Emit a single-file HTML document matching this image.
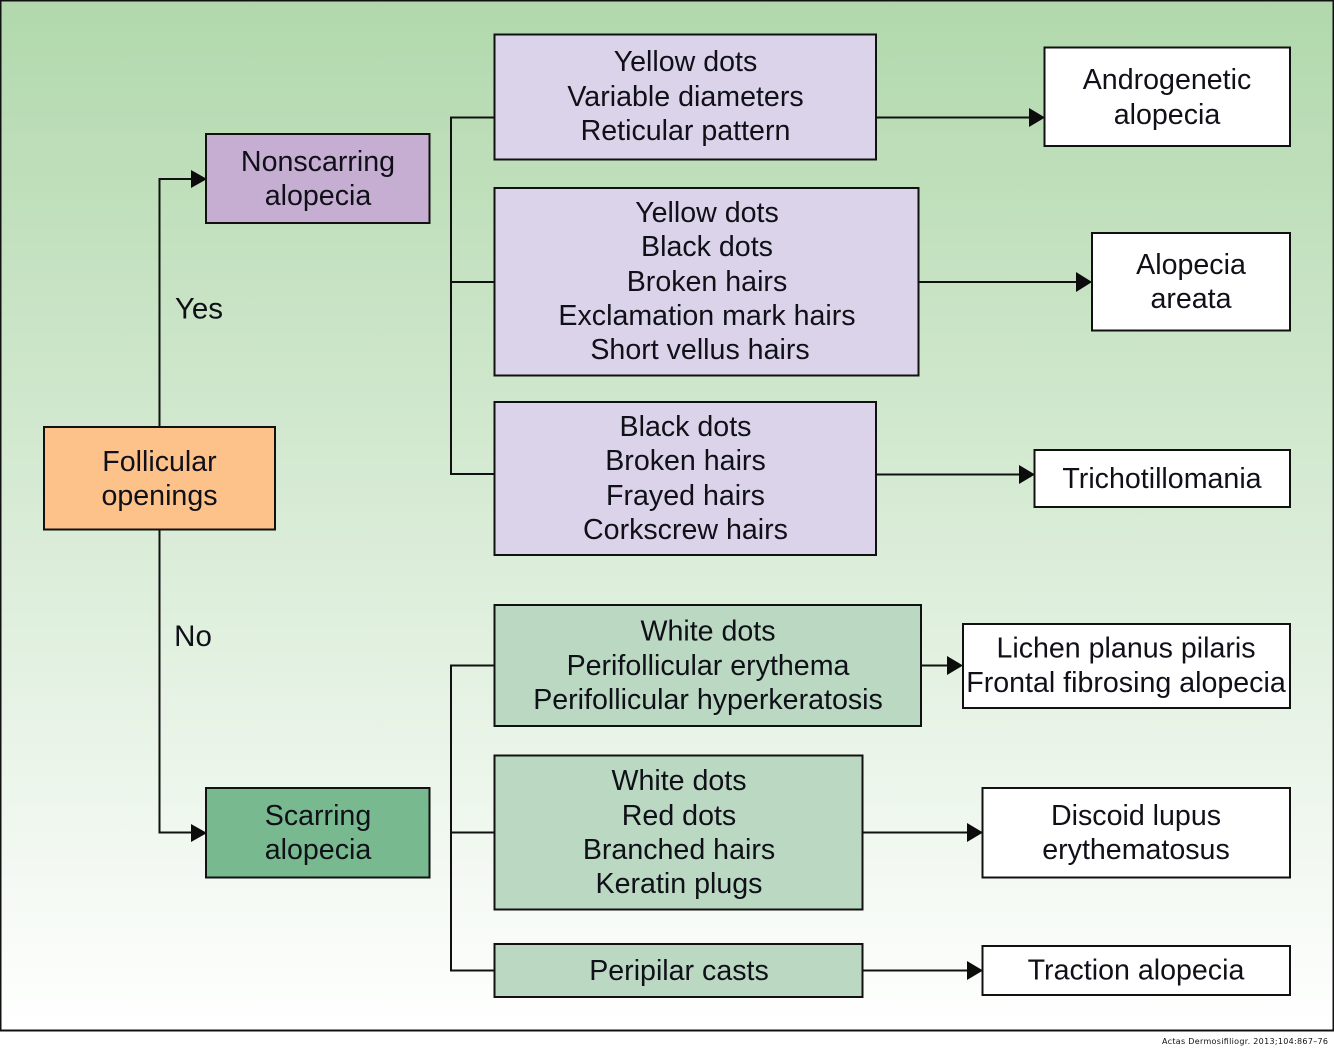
<!DOCTYPE html>
<html><head><meta charset="utf-8"><style>
html,body{margin:0;padding:0;background:#fff}
svg{display:block}
text{font-family:"Liberation Sans",Arial,sans-serif;font-size:28.600px;fill:#101018;text-anchor:middle}
.b{stroke:#111;stroke-width:2}
.l{stroke:#111;stroke-width:2;fill:none}
.a{fill:#0c0c0c}
</style></head><body>
<svg width="1334" height="1052" viewBox="0 0 1334 1052" xmlns="http://www.w3.org/2000/svg">
<defs><linearGradient id="g" x1="0" y1="0" x2="0" y2="1"><stop offset="0" stop-color="#b1d8ac"/><stop offset="1" stop-color="#ffffff"/></linearGradient></defs>
<rect x="0.5" y="0.5" width="1333" height="1030" fill="url(#g)" stroke="#111" stroke-width="2"/>

<path class="l" d="M159.500 427V179H195"/>
<path class="l" d="M159.500 530V832.500H195"/>
<path class="l" d="M494 117.500H451V474H494M451 282H494"/>
<path class="l" d="M494 665.500H451V970.500H494M451 832.500H494"/>
<path class="l" d="M876 117.500H1034M919 282H1082M876 474.500H1024M921 665.500H953M863 832.500H972M863 970.500H972"/>

<polygon class="a" points="191,170 207,179 191,188"/>
<polygon class="a" points="191,824 207,833 191,842"/>
<polygon class="a" points="1029,108 1045,117.500 1029,127"/>
<polygon class="a" points="1076,272 1092,282 1076,292"/>
<polygon class="a" points="1019,465 1035,474.500 1019,484"/>
<polygon class="a" points="947,656 963,665.500 947,675"/>
<polygon class="a" points="967,823 983,832.500 967,842"/>
<polygon class="a" points="967,961 983,970.500 967,980"/>

<rect class="b" x="44" y="427" width="231" height="102.500" fill="#fdc28a"/>
<rect class="b" x="206" y="134" width="223.500" height="89" fill="#c6aed3"/>
<rect class="b" x="206" y="788" width="223.500" height="89.500" fill="#78b990"/>

<rect class="b" x="494.500" y="34.500" width="381.500" height="125" fill="#dbd3e9"/>
<rect class="b" x="494.500" y="188" width="424" height="187.500" fill="#dbd3e9"/>
<rect class="b" x="494.500" y="402" width="381.500" height="153" fill="#dbd3e9"/>
<rect class="b" x="494.500" y="605" width="426.500" height="121" fill="#bad8c2"/>
<rect class="b" x="494.500" y="755.500" width="368" height="154" fill="#bad8c2"/>
<rect class="b" x="494.500" y="944" width="368" height="53" fill="#bad8c2"/>

<rect class="b" x="1044.500" y="47.500" width="245.500" height="98.500" fill="#fff"/>
<rect class="b" x="1092" y="233" width="198" height="97.500" fill="#fff"/>
<rect class="b" x="1034.500" y="450" width="255.500" height="57" fill="#fff"/>
<rect class="b" x="963" y="624" width="327" height="84" fill="#fff"/>
<rect class="b" x="982.500" y="788" width="307.500" height="89.500" fill="#fff"/>
<rect class="b" x="982.500" y="946" width="307.500" height="49" fill="#fff"/>

<g transform="translate(0,0.5)">
<text x="159.500" y="470.500">Follicular</text><text x="159.500" y="504.500">openings</text>
<text x="318" y="170.500">Nonscarring</text><text x="318" y="204.500">alopecia</text>
<text x="318" y="824.500">Scarring</text><text x="318" y="858.500">alopecia</text>
<text x="199" y="318" style="font-size:29.500px">Yes</text>
<text x="193" y="645.500" style="font-size:29.500px">No</text>

<text x="685.500" y="70.500">Yellow dots</text><text x="685.500" y="105.500">Variable diameters</text><text x="685.500" y="139.500">Reticular pattern</text>
<text x="707" y="221.500">Yellow dots</text><text x="707" y="255.500">Black dots</text><text x="707" y="290.500">Broken hairs</text><text x="707" y="324.500">Exclamation mark hairs</text><text x="700" y="358.500">Short vellus hairs</text>
<text x="685.500" y="435.500">Black dots</text><text x="685.500" y="469.500">Broken hairs</text><text x="685.500" y="504.500">Frayed hairs</text><text x="685.500" y="538.500">Corkscrew hairs</text>
<text x="708" y="640">White dots</text><text x="708" y="674.500">Perifollicular erythema</text><text x="708" y="708.500">Perifollicular hyperkeratosis</text>
<text x="679" y="789.500">White dots</text><text x="679" y="824.500">Red dots</text><text x="679" y="858.500">Branched hairs</text><text x="679" y="892.500">Keratin plugs</text>
<text x="679" y="979.500">Peripilar casts</text>

<text x="1167" y="88.500">Androgenetic</text><text x="1167" y="123.500">alopecia</text>
<text x="1191" y="273.500">Alopecia</text><text x="1191" y="307.500">areata</text>
<text x="1162" y="487.500">Trichotillomania</text>
<text x="1126" y="657">Lichen planus pilaris</text><text x="1126" y="691.500">Frontal fibrosing alopecia</text>
<text x="1136" y="824.500">Discoid lupus</text><text x="1136" y="858.500">erythematosus</text>
<text x="1136" y="979">Traction alopecia</text>
</g>

<text x="1162" y="1044" textLength="166" lengthAdjust="spacing" style="font-size:8px;text-anchor:start;font-family:'DejaVu Sans',sans-serif">Actas Dermosifiliogr. 2013;104:867–76</text>
</svg>
</body></html>
